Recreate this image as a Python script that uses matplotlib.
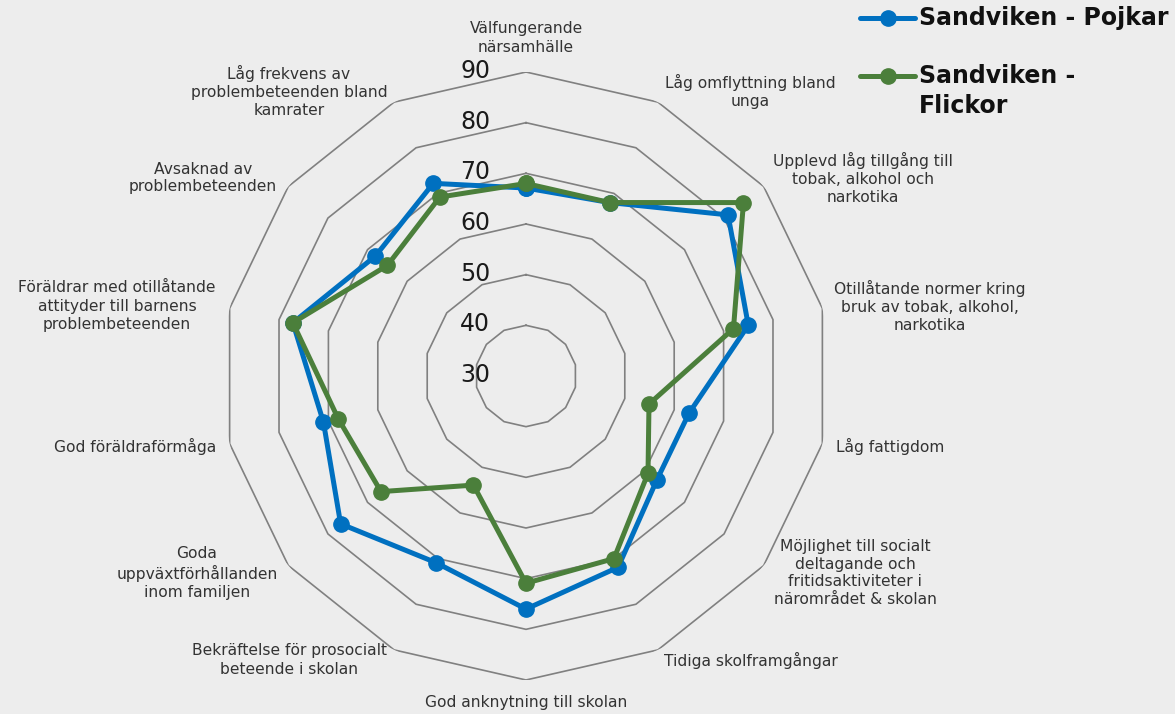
import numpy as np
import matplotlib
matplotlib.use("Agg")
import matplotlib.pyplot as plt
from matplotlib.lines import Line2D

categories = [
    "Välfungerande\nnärsamhälle",
    "Låg omflyttning bland\nunga",
    "Upplevd låg tillgång till\ntobak, alkohol och\nnarkotika",
    "Otillåtande normer kring\nbruk av tobak, alkohol,\nnarkotika",
    "Låg fattigdom",
    "Möjlighet till socialt\ndeltagande och\nfritidsaktiviteter i\nnärområdet & skolan",
    "Tidiga skolframgångar",
    "God anknytning till skolan",
    "Bekräftelse för prosocialt\nbeteende i skolan",
    "Goda\nuppväxtförhållanden\ninom familjen",
    "God föräldraförmåga",
    "Föräldrar med otillåtande\nattityder till barnens\nproblembeteenden",
    "Avsaknad av\nproblembeteenden",
    "Låg frekvens av\nproblembeteenden bland\nkamrater",
]
pojkar = [67.1, 68.0, 81.0, 75.0, 63.0, 63.0, 71.9, 76.0, 70.9, 76.8, 71.0, 77.2, 68.0, 72.2]
flickor = [68.0, 68.0, 84.9, 72.0, 54.9, 60.8, 70.0, 70.9, 53.9, 66.6, 68.0, 77.2, 65.0, 69.2]
ticks = [30, 40, 50, 60, 70, 80, 90]
series_names = ["Sandviken - Pojkar", "Sandviken -\nFlickor"]

# label centres in pixels (x, y from top)
label_px = [(526, 38), (750, 91), (863, 178), (930, 306), (890, 446), (855, 573),
            (751, 660), (526, 702), (289, 660), (197, 573), (135, 446), (117, 306),
            (203, 178), (289, 91)]

W, H = 1175, 714
BLUE = "#0070C0"
GREEN = "#4B7F3B"
GRID = "#808080"
BG = "#ededed"
FONT = "DejaVu Sans"

fig = plt.figure(figsize=(W / 100, H / 100), dpi=100)
fig.patch.set_facecolor(BG)

cx, cy, R = 526, 376, 304
ax = fig.add_axes([(cx - R) / W, (H - cy - R) / H, 2 * R / W, 2 * R / H], projection="polar")
ax.set_facecolor("none")
ax.set_theta_zero_location("N")
ax.set_theta_direction(-1)
ax.set_ylim(ticks[0], ticks[-1])
ax.grid(False)
ax.spines["polar"].set_visible(False)
ax.set_xticks([])
ax.set_yticks([])

n = len(categories)
angles = np.linspace(0, 2 * np.pi, n, endpoint=False)
closed = np.append(angles, angles[0])

for t in ticks[1:]:
    ax.plot(closed, [t] * (n + 1), color=GRID, lw=1.2, zorder=1)

for t in ticks:
    ax.annotate(str(t), xy=(0, t), xytext=(-36, 1), textcoords="offset pixels",
                ha="right", va="center", fontsize=17, color="#1a1a1a",
                family=FONT, zorder=5)

for vals, col in [(pojkar, BLUE), (flickor, GREEN)]:
    v = np.append(vals, vals[0])
    ax.plot(closed, v, color=col, lw=3.6, marker="o", markersize=11, zorder=3,
            clip_on=False, solid_joinstyle="round", solid_capstyle="round")

for lab, (x, y) in zip(categories, label_px):
    fig.text(x / W, 1 - y / H, lab, ha="center", va="center", multialignment="center",
             fontsize=11.2, color="#333333", family=FONT, linespacing=1.25)

# legend
for i, (name, col) in enumerate(zip(series_names, [BLUE, GREEN])):
    ly = [18, 76][i]
    fig.add_artist(Line2D([860 / W, 915 / W], [1 - ly / H] * 2, color=col, lw=3.6,
                          solid_capstyle="round", transform=fig.transFigure))
    fig.add_artist(Line2D([888 / W], [1 - ly / H], color=col, marker="o", markersize=11,
                          transform=fig.transFigure))
    fig.text(919 / W, 1 - (ly - 12) / H, name, ha="left", va="top", fontsize=17,
             fontweight="bold", color="#111111", family=FONT, linespacing=1.3)

fig.savefig("out.png", dpi=100, facecolor=BG)
